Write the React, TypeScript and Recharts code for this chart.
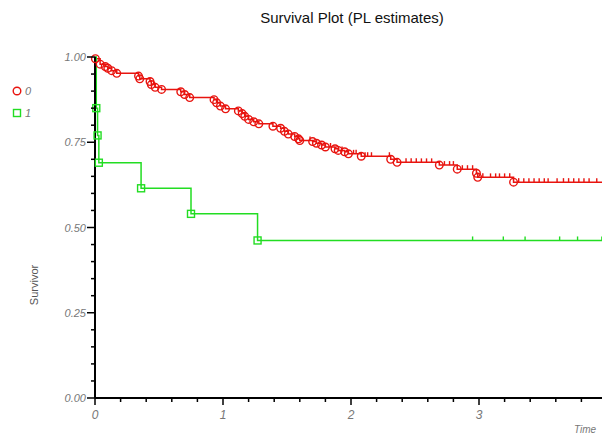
import React from "react";
import { LineChart, Line, XAxis, YAxis } from "recharts";

// group 0 : event times / survival, censored times
const redEventT = [
  0.003, 0.04, 0.08, 0.1, 0.13, 0.17, 0.34, 0.35, 0.43, 0.44, 0.47, 0.52, 0.67, 0.7,
  0.74, 0.93, 0.95, 0.98, 1.02, 1.12, 1.15, 1.17, 1.2, 1.24, 1.28, 1.39, 1.45, 1.48,
  1.51, 1.56, 1.59, 1.6, 1.7, 1.73, 1.77, 1.8, 1.875, 1.9, 1.95, 1.98, 2.08, 2.31,
  2.36, 2.69, 2.83, 2.98, 2.99, 3.27,
];
const redEventS = [
  0.995, 0.979, 0.972, 0.967, 0.96, 0.952, 0.944, 0.936, 0.928, 0.919, 0.911, 0.905,
  0.898, 0.89, 0.881, 0.875, 0.866, 0.856, 0.848, 0.842, 0.834, 0.826, 0.817, 0.81,
  0.804, 0.797, 0.791, 0.782, 0.774, 0.767, 0.76, 0.755, 0.752, 0.747, 0.742, 0.736,
  0.731, 0.726, 0.722, 0.716, 0.709, 0.7, 0.691, 0.683, 0.671, 0.659, 0.647, 0.633,
];
const redCensorT = [
  1.68, 1.84, 1.93, 2.02, 2.04, 2.11, 2.13, 2.16, 2.3, 2.43, 2.47, 2.51, 2.55, 2.59,
  2.63, 2.73, 2.77, 2.8, 2.87, 2.91, 2.95, 3.03, 3.09, 3.13, 3.16, 3.2, 3.24, 3.31,
  3.35, 3.39, 3.43, 3.47, 3.51, 3.54, 3.61, 3.66, 3.7, 3.74, 3.78, 3.82, 3.86, 3.92,
  4.25,
];

// group 1
const greenEventT = [0.01, 0.02, 0.03, 0.36, 0.75, 1.27];
const greenEventS = [0.85, 0.77, 0.69, 0.615, 0.54, 0.462];
const greenCensorT = [2.95, 3.19, 3.36, 3.63, 3.77, 3.96, 4.25];

const xLabels = [0, 1, 2, 3];
const yTicks = Array.from({ length: 21 }, (_, i) => i * 0.05);
const xTicks = Array.from({ length: 22 }, (_, i) => i * 0.2);

const RED = "#e8140f";
const GREEN = "#22dd22";

// build km step data: events + censored points at the running level
function buildKm(et: number[], es: number[], ct: number[]) {
  const pts: { t: number; s: number; kind: string }[] = [{ t: 0, s: 1, kind: "start" }];
  et.forEach((t, i) => pts.push({ t, s: es[i], kind: "e" }));
  ct.forEach((t) => pts.push({ t, s: 0, kind: "c" }));
  pts.sort((a, b) => a.t - b.t);
  let level = 1;
  pts.forEach((p) => {
    if (p.kind === "c") p.s = level;
    else level = p.s;
  });
  return pts;
}

const redData = buildKm(redEventT, redEventS, redCensorT);
const greenData = buildKm(greenEventT, greenEventS, greenCensorT);

const makeDot = (color: string, square: boolean) => (props: any) => {
  const { cx, cy, payload, index } = props;
  if (payload.kind === "e") {
    return square ? (
      <rect key={index} x={cx - 3.5} y={cy - 3.5} width={7} height={7} fill="none" stroke={color} strokeWidth={1.4} />
    ) : (
      <circle key={index} cx={cx} cy={cy} r={3.8} fill="none" stroke={color} strokeWidth={1.4} />
    );
  }
  if (payload.kind === "c") {
    return <line key={index} x1={cx} x2={cx} y1={cy} y2={cy - 4} stroke={color} strokeWidth={1.4} />;
  }
  return <g key={index} />;
};

const isMajor = (v: number, step: number) => Math.abs(v / step - Math.round(v / step)) < 1e-6;

const YTick = (props: any) => {
  const { x, y, payload } = props;
  const v = payload.value;
  const major = isMajor(v, 0.25);
  return (
    <g>
      <line x1={x} x2={x - (major ? 8 : 4)} y1={y} y2={y} stroke="#000" strokeWidth={1.5} />
      {major && (
        <text x={x - 9} y={y + 4} textAnchor="end" fontSize={11} fontStyle="italic" fill="#777"
          fontFamily="Liberation Sans, Arial, sans-serif">
          {v.toFixed(2)}
        </text>
      )}
    </g>
  );
};

const XTick = (props: any) => {
  const { x, y, payload } = props;
  const v = payload.value;
  const major = isMajor(v, 1);
  const labelled = major && xLabels.includes(Math.round(v));
  return (
    <g>
      <line x1={x} x2={x} y1={y} y2={y + (major ? 7 : 4)} stroke="#000" strokeWidth={1.5} />
      {labelled && (
        <text x={x} y={y + 21} textAnchor="middle" fontSize={12} fontStyle="italic" fill="#777"
          fontFamily="Liberation Sans, Arial, sans-serif">
          {Math.round(v)}
        </text>
      )}
    </g>
  );
};

const App = () => {
  return (
    <div style={{ position: "absolute", left: 0, top: 0, width: 602, height: 435, overflow: "hidden", background: "#fff" }}>
      <LineChart width={640} height={435} margin={{ top: 57, right: 1, left: 0, bottom: 0 }}>
        <XAxis
          type="number"
          dataKey="t"
          domain={[0, 4.25]}
          ticks={xTicks}
          interval={0}
          height={37}
          tickSize={0}
          tickMargin={0}
          tick={<XTick />}
          tickLine={false}
          axisLine={{ stroke: "#000", strokeWidth: 2 }}
        />
        <YAxis
          type="number"
          dataKey="s"
          domain={[0, 1]}
          ticks={yTicks}
          interval={0}
          width={95}
          tickSize={0}
          tickMargin={0}
          tick={<YTick />}
          tickLine={false}
          axisLine={{ stroke: "#000", strokeWidth: 2 }}
        />
        <Line
          data={redData}
          dataKey="s"
          type="stepAfter"
          stroke={RED}
          strokeWidth={1.5}
          dot={makeDot(RED, false)}
          activeDot={false}
          isAnimationActive={false}
        />
        <Line
          data={greenData}
          dataKey="s"
          type="stepAfter"
          stroke={GREEN}
          strokeWidth={1.5}
          dot={makeDot(GREEN, true)}
          activeDot={false}
          isAnimationActive={false}
        />
      </LineChart>
      <svg width={602} height={435} style={{ position: "absolute", left: 0, top: 0, pointerEvents: "none" }}
        fontFamily="Liberation Sans, Arial, sans-serif">
        <text x={352} y={23} textAnchor="middle" fontSize={15} fill="#111">
          Survival Plot (PL estimates)
        </text>
        <circle cx={17} cy={91} r={3.8} fill="none" stroke={RED} strokeWidth={1.4} />
        <text x={25} y={95} fontSize={11} fontStyle="italic" fill="#777">0</text>
        <rect x={13.5} y={109.5} width={7} height={7} fill="none" stroke={GREEN} strokeWidth={1.4} />
        <text x={25} y={117} fontSize={11} fontStyle="italic" fill="#777">1</text>
        <text x={0} y={0} transform="translate(38,285) rotate(-90)" textAnchor="middle" fontSize={11} fill="#555">
          Survivor
        </text>
        <text x={574} y={433} fontSize={10} fontStyle="italic" fill="#777">Time</text>
      </svg>
    </div>
  );
};

export default App;
